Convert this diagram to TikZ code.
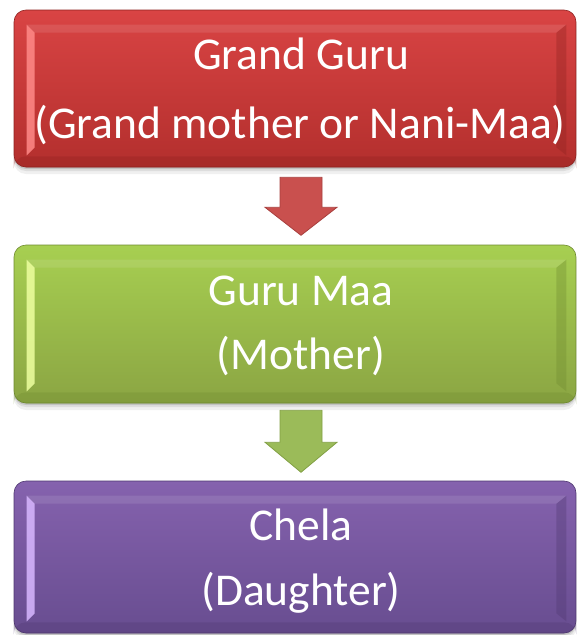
\documentclass[tikz,border=0pt]{standalone}
\usepackage{fontspec}
\setmainfont{Carlito}
\usetikzlibrary{calc}

% Office-style palette
\definecolor{redtop}{HTML}{D94444}
\definecolor{redbot}{HTML}{B32F2D}
\definecolor{redhi}{HTML}{FF8A88}
\definecolor{redlo}{HTML}{8E2220}
\definecolor{redarrow}{HTML}{C9504E}
\definecolor{redarrowedge}{HTML}{A8403E}
\definecolor{grntop}{HTML}{A7CF51}
\definecolor{grnbot}{HTML}{8BA543}
\definecolor{grnhi}{HTML}{EEFFA0}
\definecolor{grnlo}{HTML}{6F8A30}
\definecolor{grnarrow}{HTML}{9BBB59}
\definecolor{grnarrowedge}{HTML}{82A045}
\definecolor{purtop}{HTML}{8562AE}
\definecolor{purbot}{HTML}{684D90}
\definecolor{purhi}{HTML}{D8B8FF}
\definecolor{purlo}{HTML}{4F3870}

\tikzset{
  levelbox/.style={
    rectangle, rounded corners=12pt, inner sep=0pt,
    minimum width=562pt,
    preaction={fill=black, opacity=.06, transform canvas={yshift=-7pt}},
    preaction={fill=black, opacity=.08, transform canvas={yshift=-4pt}},
    preaction={fill=black, opacity=.12, transform canvas={yshift=-2pt}},
    draw=#1, line width=.6pt
  },
  label/.style={anchor=base, text=white, font=\fontsize{45.5}{54}\selectfont},
  flowarrow/.style={line width=.8pt, line join=miter}
}

% bevel highlights and shades of a box node
\newcommand\bevelbox[3]{%
  % lower rim
  \fill[#3, opacity=.30, rounded corners=12pt]
    ($(#1.south west)+(0,-11)$) -- ($(#1.south west)$) -- ($(#1.south east)$) -- ($(#1.south east)+(0,-11)$) -- cycle;
  % left highlight
  \fill[#2, opacity=.85]
    ($(#1.north west)+(13,15)$) -- ($(#1.north west)+(21,23)$) --
    ($(#1.south west)+(21,-20)$) -- ($(#1.south west)+(13,-12)$) -- cycle;
  % right shade
  \fill[#3, opacity=.35]
    ($(#1.north east)+(-20,23)$) -- ($(#1.north east)+(-10,15)$) --
    ($(#1.south east)+(-10,-12)$) -- ($(#1.south east)+(-20,-20)$) -- cycle;
  % upper rim
  \fill[white, opacity=.10]
    ($(#1.north west)+(13,15)$) -- ($(#1.north west)+(21,23)$) --
    ($(#1.north east)+(-20,23)$) -- ($(#1.north east)+(-10,15)$) -- cycle;
}

\begin{document}
\begin{tikzpicture}[x=1pt, y=-1pt]
  \useasboundingbox (0,0) rectangle (577,635);

  % three levels
  \node[levelbox=redlo, minimum height=157pt, top color=redtop, bottom color=redbot] (grand) at (295,88.5) {};
  \bevelbox{grand}{redhi}{redlo}
  \node[levelbox=grnlo, minimum height=158pt, top color=grntop, bottom color=grnbot] (mother) at (295,324) {};
  \bevelbox{mother}{grnhi}{grnlo}
  \node[levelbox=purlo, minimum height=152pt, top color=purtop, bottom color=purbot] (child) at (295,557) {};
  \bevelbox{child}{purhi}{purlo}

  % labels
  \node[label] (g1) at (301,69)  {Grand Guru};
  \node[label] (g2) at (300,138) {(Grand mother or Nani-Maa)};
  \node[label] (m1) at (301,305) {Guru Maa};
  \node[label] (m2) at (301,369) {(Mother)};
  \node[label] (c1) at (301,540) {Chela};
  \node[label] (c2) at (301,605) {(Daughter)};

  % block arrows between the levels
  \coordinate (a1) at ($(grand.south)+(6,10)$);
  \coordinate (a2) at ($(mother.south)+(6,7)$);
  \fill[redarrow, draw=redarrowedge, flowarrow]
    (a1) ++(-21,0) -- ++(42,0) -- ++(0,30) -- ++(15,0) -- ++(-36,28) -- ++(-36,-28) -- ++(15,0) -- cycle;
  \fill[grnarrow, draw=grnarrowedge, flowarrow]
    (a2) ++(-21,0) -- ++(42,0) -- ++(0,32) -- ++(15,0) -- ++(-36,30) -- ++(-36,-30) -- ++(15,0) -- cycle;
\end{tikzpicture}
\end{document}
